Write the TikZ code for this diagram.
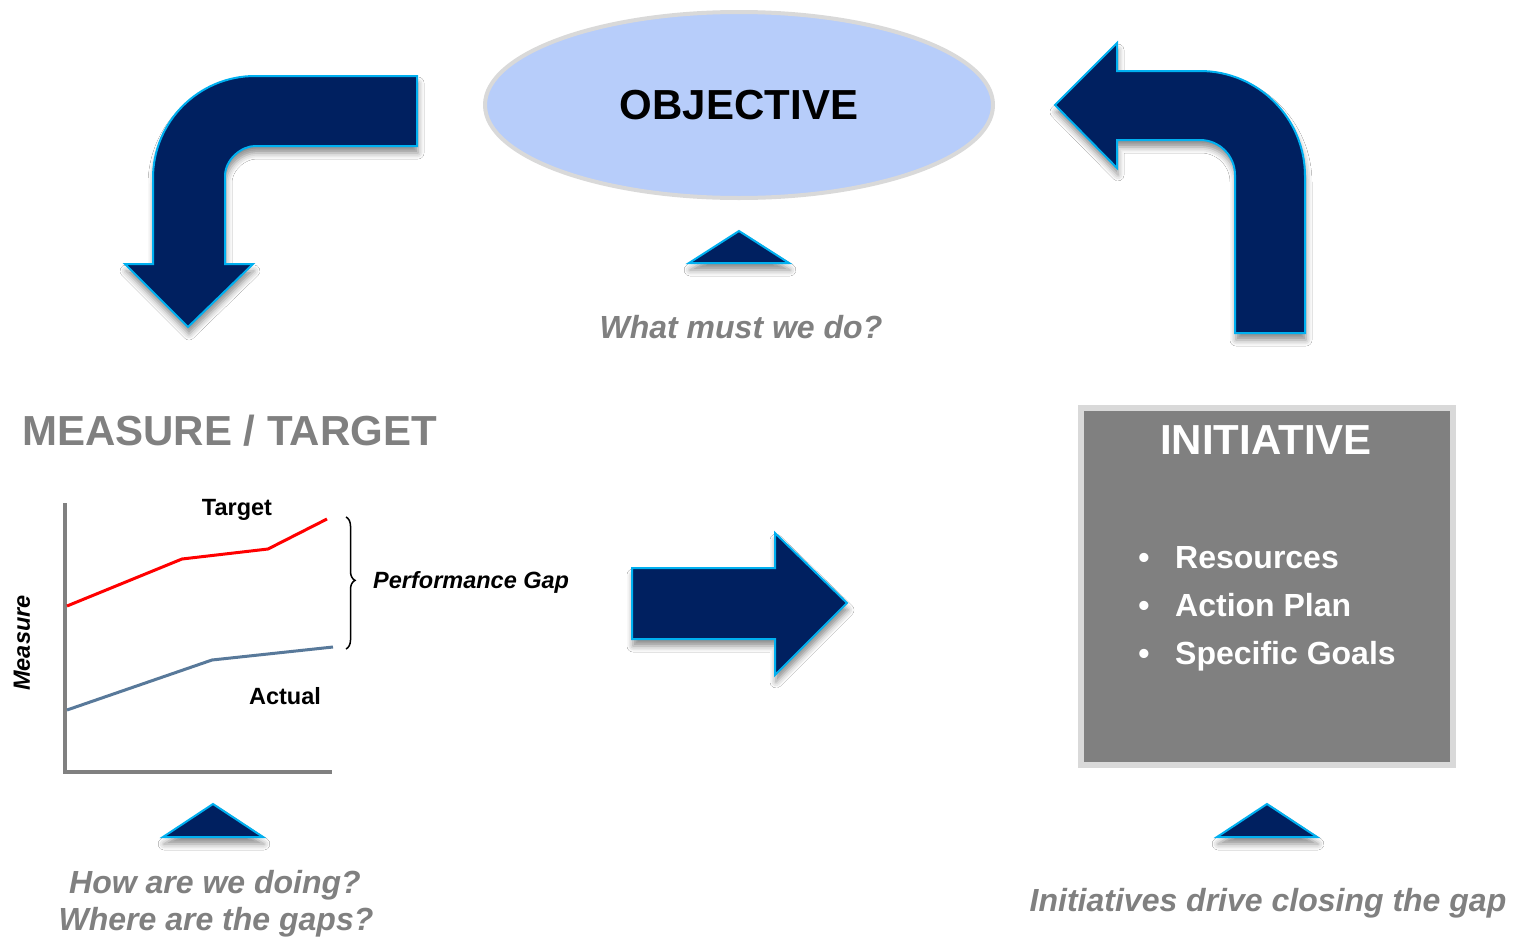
\documentclass[tikz,border=0pt]{standalone}
\usepackage{fontspec}
\setmainfont{Liberation Sans}
\usetikzlibrary{shapes.geometric,shadows.blur,decorations.pathreplacing}

\definecolor{navy}{HTML}{002060}
\definecolor{edgeblue}{HTML}{00B0F0}
\definecolor{objfill}{HTML}{B7CDFA}
\definecolor{rimgray}{HTML}{D9D9D9}
\definecolor{midgray}{HTML}{808080}
\definecolor{actualline}{HTML}{58799A}

\newcommand\fsbig{\fontsize{42}{48}\selectfont}
\newcommand\fsmid{\fontsize{32}{38}\selectfont}
\newcommand\fssmall{\fontsize{23.5}{28}\selectfont}

\tikzset{
  bigarrow/.style={fill=navy, draw=edgeblue, line width=2pt, line join=miter,
    blur shadow={shadow xshift=1pt, shadow yshift=-7pt,
                 shadow blur radius=6pt, shadow opacity=45}},
  objective/.style={ellipse, fill=objfill, draw=rimgray, line width=4pt,
    minimum width=508pt, minimum height=186pt, inner sep=0pt,
    font=\bfseries\fsbig},
  question/.style={inner sep=0pt, text=midgray, font=\bfseries\itshape\fsmid},
  heading/.style={inner sep=0pt, font=\bfseries\fsbig},
  bulletitem/.style={inner sep=0pt, text=white, font=\bfseries\fsmid, anchor=base west},
  chartlabel/.style={inner sep=0pt, font=\bfseries\fssmall},
  axisline/.style={draw=midgray, line width=4pt},
  series/.style={line width=3pt},
}

\begin{document}
\begin{tikzpicture}[x=1pt, y=-1pt]
  \fill[white] (0,0) rectangle (1516,937);
  \useasboundingbox (0,0) rectangle (1516,937);

  % objective ellipse
  \node[objective] (obj) at (739,105) {OBJECTIVE};

  % bent arrow: objective -> measure
  \path[bigarrow] (417,76) -- (255,76)
    .. controls (198.7,76) and (153,121.7) .. (153,178)
    -- (153,264) -- (125,264) -- (188,327) -- (253,264) -- (225,264)
    -- (225,176) .. controls (225,159.4) and (241.6,146) .. (255,146)
    -- (417,146) -- cycle;

  % bent arrow: initiative -> objective
  \path[bigarrow] (1055,105) -- (1117,43) -- (1117,71) -- (1200,71)
    .. controls (1258,71) and (1305,118) .. (1305,176)
    -- (1305,333) -- (1235,333) -- (1235,175)
    .. controls (1235,155.7) and (1219.3,140) .. (1200,140)
    -- (1117,140) -- (1117,168) -- cycle;

  % straight arrow: measure -> initiative
  \path[bigarrow] (632,568) -- (775,568) -- (775,533) -- (847,603)
    -- (775,675) -- (775,639) -- (632,639) -- cycle;

  % small pointer triangles
  \path[bigarrow] (689,263) -- (739,231) -- (789,263) -- cycle;
  \path[bigarrow] (163,837) -- (213,804) -- (263,837) -- cycle;
  \path[bigarrow] (1217,837) -- (1267,804) -- (1317,837) -- cycle;

  % questions
  \node[question, anchor=base] (q1) at (741,338) {What must we do?};
  \node[question, anchor=base] (q2) at (215,893) {How are we doing?};
  \node[question, anchor=base] (q2b) at (216,930) {Where are the gaps?};
  \node[question, anchor=base] (q3) at (1268,911) {Initiatives drive closing the gap};

  % measure / target
  \node[heading, text=midgray, anchor=base west] (mt) at (22,445) {MEASURE / TARGET};

  % chart
  \coordinate (ytop) at (65,503);
  \coordinate (origin) at (65,772);
  \coordinate (xend) at (332,772);
  \draw[axisline] (ytop) -- (origin) -- (xend);
  \draw[series, red] (67,606) -- (182,559) -- (268,549) -- (327,519);
  \draw[series, actualline] (67,710) -- (212,660) -- (333,647);
  \draw[decorate, decoration={brace, amplitude=9pt, aspect=0.48}, line width=1.5pt]
    (346,517) -- (346,649);
  \node[chartlabel, anchor=base] (tgt) at (237,515) {Target};
  \node[chartlabel, anchor=base] (act) at (285,704) {Actual};
  \node[chartlabel, anchor=base west, font=\bfseries\itshape\fssmall] (gap) at (373,588) {Performance Gap};
  \node[chartlabel, font=\bfseries\itshape\fssmall, rotate=90] (msr) at (22,643) {Measure};

  % initiative box
  \node[draw=rimgray, fill=midgray, line width=6pt, minimum width=372pt,
        minimum height=357pt, inner sep=0pt] (init) at (1267,586.5) {};
  \node[heading, text=white, anchor=base] (ititle) at (1266,454) {INITIATIVE};
  \node[bulletitem, anchor=base] (d1) at (1144,568) {\textbullet};
  \node[bulletitem, anchor=base] (d2) at (1144,616) {\textbullet};
  \node[bulletitem, anchor=base] (d3) at (1144,664) {\textbullet};
  \node[bulletitem] (b1) at (1175,568) {Resources};
  \node[bulletitem] (b2) at (1175,616) {Action Plan};
  \node[bulletitem] (b3) at (1175,664) {Specific Goals};
\end{tikzpicture}
\end{document}
